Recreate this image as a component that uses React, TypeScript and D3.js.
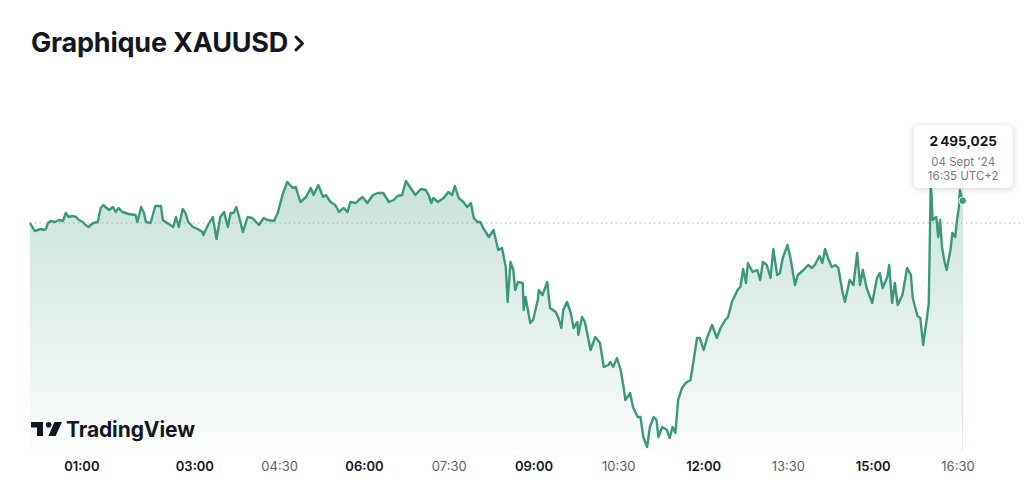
import React from "react";
import { scaleLinear, line, area, curveLinear, formatLocale } from "d3";

// minutes since midnight (04 Sept '24, UTC+2)
const times = [
  5, 10, 13, 17, 20, 22, 24, 27, 31, 36, 40, 43, 46, 50, 54, 57, 61, 64, 67, 72,
  77, 80, 83, 85, 89, 93, 96, 99, 103, 110, 117, 119, 123, 126, 128, 133, 138, 144, 146, 149,
  157, 160, 163, 167, 170, 173, 178, 183, 188, 189, 194, 199, 203, 207, 211, 215, 218, 221, 224, 227,
  231, 236, 241, 248, 253, 257, 264, 268, 273, 278, 284, 287, 292, 298, 303, 306, 311, 316, 319, 324,
  329, 333, 338, 342, 345, 351, 354, 358, 363, 369, 374, 380, 386, 391, 395, 400, 404, 409, 414, 420,
  425, 428, 431, 433, 438, 444, 449, 453, 456, 460, 465, 469, 473, 476, 480, 483, 486, 492, 497, 502,
  506, 510, 512, 515, 518, 520, 523, 528, 529, 531, 536, 539, 544, 545, 549, 554, 557, 563, 566, 569,
  571, 575, 579, 582, 586, 587, 591, 594, 600, 605, 610, 614, 619, 621, 624, 628, 632, 635, 637, 642,
  645, 650, 653, 656, 660, 663, 667, 670, 672, 676, 681, 684, 687, 690, 693, 697, 701, 706, 709, 713,
  716, 720, 724, 729, 734, 738, 743, 746, 750, 756, 759, 762, 765, 767, 772, 777, 780, 783, 787, 791,
  794, 798, 801, 804, 809, 812, 817, 820, 826, 831, 835, 838, 843, 846, 849, 852, 856, 860, 863, 867,
  870, 875, 879, 883, 886, 889, 893, 899, 904, 907, 910, 915, 917, 920, 923, 926, 931, 936, 940, 942,
  947, 950, 953, 957, 959, 961, 962, 963, 967, 969, 971, 973, 976, 978, 982, 984, 987, 989, 991, 992,
  995,
];

const prices = [
  2492.8, 2492.0, 2492.1, 2492.2, 2492.1, 2492.2, 2492.8, 2493.0, 2492.9, 2493.1,
  2493.0, 2493.8, 2493.4, 2493.5, 2493.4, 2493.1, 2492.9, 2492.6, 2492.4, 2492.8,
  2492.9, 2494.3, 2494.6, 2494.4, 2494.1, 2494.4, 2493.9, 2494.3, 2493.9, 2493.7,
  2493.6, 2492.9, 2494.4, 2493.8, 2492.9, 2492.8, 2494.5, 2494.5, 2493.1, 2492.9,
  2492.4, 2493.4, 2492.4, 2494.2, 2493.8, 2492.9, 2492.4, 2492.2, 2491.9, 2491.6,
  2492.6, 2493.4, 2491.2, 2493.4, 2493.9, 2492.4, 2493.8, 2493.8, 2494.4, 2493.4,
  2491.9, 2493.4, 2493.3, 2492.6, 2493.3, 2493.1, 2493.0, 2493.8, 2495.6, 2496.9,
  2496.3, 2496.4, 2494.9, 2495.4, 2496.3, 2495.6, 2496.6, 2495.4, 2495.6, 2494.9,
  2494.6, 2493.9, 2494.3, 2493.9, 2494.9, 2494.8, 2495.1, 2495.4, 2494.8, 2495.6,
  2495.8, 2495.8, 2494.9, 2495.1, 2495.5, 2495.6, 2497.0, 2496.3, 2495.6, 2496.2,
  2496.1, 2495.6, 2494.8, 2495.3, 2494.9, 2495.3, 2495.9, 2495.6, 2496.5, 2495.3,
  2494.9, 2494.4, 2494.8, 2493.3, 2492.9, 2492.9, 2492.3, 2491.4, 2492.1, 2490.1,
  2490.3, 2488.4, 2484.9, 2488.9, 2488.1, 2486.1, 2486.9, 2486.8, 2484.1, 2485.4,
  2482.8, 2483.1, 2485.1, 2486.1, 2485.6, 2486.9, 2484.3, 2483.9, 2483.3, 2482.3,
  2484.1, 2484.9, 2483.8, 2482.3, 2482.9, 2481.6, 2483.4, 2482.9, 2480.1, 2481.4,
  2480.8, 2478.4, 2478.6, 2478.9, 2478.4, 2479.3, 2478.1, 2476.4, 2475.1, 2475.8,
  2474.4, 2473.4, 2473.4, 2471.4, 2470.4, 2472.4, 2473.4, 2473.1, 2471.4, 2472.4,
  2472.1, 2471.3, 2472.4, 2471.8, 2475.1, 2476.3, 2476.8, 2477.1, 2478.8, 2481.3,
  2481.3, 2480.1, 2481.4, 2482.6, 2481.3, 2482.3, 2483.1, 2483.4, 2484.9, 2486.1,
  2486.4, 2488.2, 2486.8, 2488.8, 2487.9, 2488.1, 2487.1, 2488.9, 2488.6, 2487.3,
  2490.2, 2487.6, 2487.8, 2489.3, 2490.6, 2489.4, 2486.6, 2487.6, 2488.1, 2488.6,
  2488.3, 2488.6, 2489.5, 2488.8, 2490.2, 2489.3, 2488.4, 2488.6, 2488.3, 2486.1,
  2484.9, 2487.1, 2486.6, 2489.8, 2486.6, 2488.1, 2486.3, 2484.8, 2487.3, 2487.8,
  2486.3, 2487.4, 2488.6, 2484.8, 2486.8, 2484.6, 2485.6, 2488.3, 2487.6, 2485.3,
  2483.5, 2483.3, 2480.6, 2483.3, 2484.8, 2496.5, 2495.6, 2493.1, 2493.4, 2491.4,
  2493.1, 2490.4, 2488.8, 2488.1, 2490.1, 2491.8, 2491.4, 2493.1, 2494.4, 2496.1,
  2495.025,
];

const prevClose = 2492.8;

const tickLabels = ["01:00", "03:00", "04:30", "06:00", "07:30", "09:00", "10:30", "12:00", "13:30", "15:00", "16:30"];
const tooltipDate = "04 Sept '24";
const tooltipTime = "16:35 UTC+2";
const title = "Graphique XAUUSD";

const W = 1024;
const H = 480;
const GREEN = "#3b987c";
const FONT = "Inter, 'Noto Sans', sans-serif";

const toMinutes = (s: string) => {
  const [h, m] = s.split(":").map(Number);
  return h * 60 + m;
};

const frLocale = formatLocale({
  decimal: ",",
  thousands: "\u2009",
  grouping: [3],
  currency: ["", ""],
});
const fmtPrice = frLocale.format(",.3f");

export default function App() {
  const data = times.map((t, i) => ({ t, p: prices[i] }));
  const x = scaleLinear().domain([5, 995]).range([30, 962.7]);
  const y = scaleLinear().domain([2470.6, 2497.0]).range([445, 181]);
  const bottom = 450;

  const linePath = line<{ t: number; p: number }>()
    .x((d) => x(d.t))
    .y((d) => y(d.p))
    .curve(curveLinear)(data);
  const areaPath = area<{ t: number; p: number }>()
    .x((d) => x(d.t))
    .y0(bottom)
    .y1((d) => y(d.p))(data);

  const last = data[data.length - 1];
  const lx = x(last.t);
  const ly = y(last.p);

  const tipW = 99;
  const tipH = 63;
  const tipX = lx - 49;
  const tipY = 125;

  return (
    <svg
      width={W}
      height={H}
      style={{ position: "absolute", left: 0, top: 0, background: "#fff" }}
      fontFamily={FONT}
    >
      <defs>
        <linearGradient id="fillGrad" gradientUnits="userSpaceOnUse" x1="0" x2="0" y1={y(2497)} y2={bottom}>
          <stop offset="0" stopColor={GREEN} stopOpacity={0.28} />
          <stop offset="1" stopColor={GREEN} stopOpacity={0.02} />
        </linearGradient>
      </defs>

      {/* title */}
      <text x={31} y={52} fontSize={27} fontWeight={700} fill="#131722" letterSpacing={-0.2}>
        {title}
      </text>
      <path d="M296 37 L302.5 43.5 L296 50" fill="none" stroke="#131722" strokeWidth={3} strokeLinecap="round" strokeLinejoin="round" />

      {/* area + line */}
      <path d={areaPath ?? ""} fill="url(#fillGrad)" />
      <line x1={30} x2={1020} y1={y(prevClose)} y2={y(prevClose)} stroke="#9a9ca3" strokeWidth={1.2} strokeDasharray="1.2 3.6" />
      <line x1={lx} x2={lx} y1={tipY + tipH} y2={bottom} stroke="#e0e3eb" strokeWidth={1} />
      <path d={linePath ?? ""} fill="none" stroke={GREEN} strokeWidth={2.4} strokeLinejoin="round" />
      <circle cx={lx} cy={ly} r={3.8} fill={GREEN} stroke="#fff" strokeWidth={1} />

      {/* TradingView logo */}
      <g fill="#131722">
        <path d="M31 422 H43 V436 H37 V427.5 H31 Z" />
        <circle cx={48.6} cy={424.8} r={2.8} />
        <path d="M54.5 422 H62 L55.6 436 H48.4 Z" />
        <text x={66} y={436.5} fontSize={21} fontWeight={700} letterSpacing={-0.1}>
          TradingView
        </text>
      </g>

      {/* x axis labels */}
      {tickLabels.map((s) => {
        const m = toMinutes(s);
        const strong = m % 60 === 0;
        return (
          <text
            key={s}
            x={x(m)}
            y={471}
            textAnchor="middle"
            fontSize={13}
            fontWeight={strong ? 600 : 400}
            fill={strong ? "#131722" : "#5d606b"}
          >
            {s}
          </text>
        );
      })}

      {/* tooltip */}
      <rect
        x={tipX}
        y={tipY}
        width={tipW}
        height={tipH}
        rx={5}
        fill="#fff"
        style={{ filter: "drop-shadow(0 1px 3px rgba(0,0,0,0.18))" }}
      />
      <text x={tipX + tipW / 2} y={146} textAnchor="middle" fontSize={13.5} fontWeight={700} fill="#131722">
        {fmtPrice(last.p)}
      </text>
      <text x={tipX + tipW / 2} y={166} textAnchor="middle" fontSize={11.5} fill="#787b86">
        {tooltipDate}
      </text>
      <text x={tipX + tipW / 2} y={179.5} textAnchor="middle" fontSize={11.5} fill="#787b86">
        {tooltipTime}
      </text>
    </svg>
  );
}
